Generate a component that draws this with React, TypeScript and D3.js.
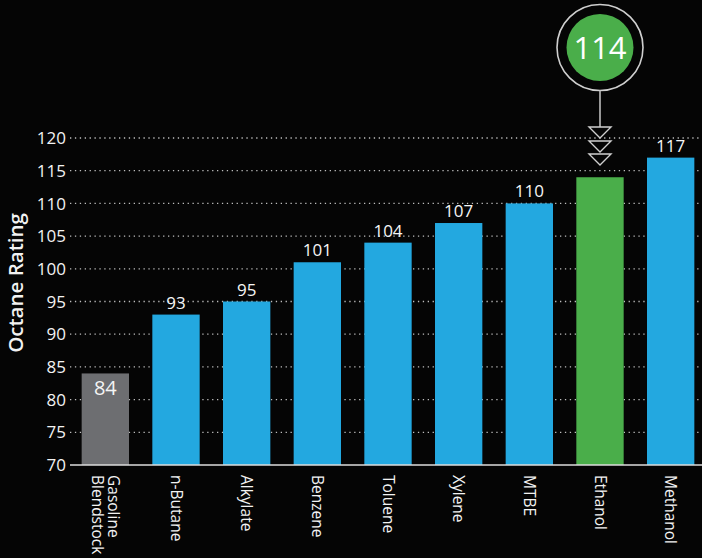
import { useEffect, useRef } from "react";
import * as d3 from "d3";

const WIDTH = 702;
const HEIGHT = 558;

const categories = ["Gasoline Blendstock", "n-Butane", "Alkylate", "Benzene", "Toluene", "Xylene", "MTBE", "Ethanol", "Methanol"];
const octane = [84, 93, 95, 101, 104, 107, 110, 114, 117];
const yTicks = [70, 75, 80, 85, 90, 95, 100, 105, 110, 115, 120];
const highlight = "Ethanol";
const baseCategory = "Gasoline Blendstock";

const BLUE = "#23a8e0";
const GREEN = "#4aae4a";
const GRAY = "#6d6e71";
const FONT = "'Open Sans', 'Noto Sans', sans-serif";

export default function App() {
  const ref = useRef<SVGSVGElement>(null);

  useEffect(() => {
    document.body.style.margin = "0";
    document.body.style.background = "#050505";
    const svg = d3.select(ref.current);
    svg.selectAll("*").remove();

    const x = d3.scaleBand().domain(categories).range([70, 706]).paddingInner(0.33).paddingOuter(0.165);
    const y = d3.scaleLinear().domain([70, 120]).range([465, 138]);

    // dotted gridlines
    svg.append("g")
      .selectAll("line")
      .data(yTicks.slice(1))
      .join("line")
      .attr("x1", 70)
      .attr("x2", WIDTH)
      .attr("y1", (d) => y(d))
      .attr("y2", (d) => y(d))
      .attr("stroke", "#bdbdbd")
      .attr("stroke-width", 1.3)
      .attr("stroke-dasharray", "1.3 3.6");

    // tick labels
    svg.append("g")
      .selectAll("text")
      .data(yTicks)
      .join("text")
      .attr("x", 66)
      .attr("y", (d) => y(d))
      .attr("dy", "0.36em")
      .attr("text-anchor", "end")
      .attr("fill", "#f2f2f2")
      .attr("font-family", FONT)
      .attr("font-weight", 500)
      .attr("font-size", 17)
      .text((d) => d);

    svg.append("text")
      .attr("transform", `translate(23,283) rotate(-90)`)
      .attr("text-anchor", "middle")
      .attr("fill", "#f2f2f2")
      .attr("font-family", FONT)
      .attr("font-weight", 600)
      .attr("font-size", 20.5)
      .text("Octane Rating");

    // bars
    svg.append("g")
      .selectAll("rect")
      .data(categories)
      .join("rect")
      .attr("x", (d) => x(d)!)
      .attr("width", x.bandwidth())
      .attr("y", (_, i) => y(octane[i]))
      .attr("height", (_, i) => y(70) - y(octane[i]))
      .attr("fill", (d) => (d === highlight ? GREEN : d === baseCategory ? GRAY : BLUE));

    // baseline
    svg.append("line")
      .attr("x1", 70)
      .attr("x2", WIDTH)
      .attr("y1", y(70))
      .attr("y2", y(70))
      .attr("stroke", "#dcdcdc")
      .attr("stroke-width", 1.6);

    // value labels
    svg.append("g")
      .selectAll("text")
      .data(categories.filter((c) => c !== highlight))
      .join("text")
      .attr("x", (d) => x(d)! + x.bandwidth() / 2)
      .attr("y", (d) => {
        const v = octane[categories.indexOf(d)];
        return d === baseCategory ? y(v) + 22 : y(v) - 6;
      })
      .attr("text-anchor", "middle")
      .attr("fill", "#f5f5f5")
      .attr("font-family", FONT)
      .attr("font-weight", 500)
      .attr("font-size", (d) => (d === baseCategory ? 20 : 17))
      .text((d) => octane[categories.indexOf(d)]);

    // category labels, rotated
    const xl = svg.append("g")
      .selectAll("text")
      .data(categories)
      .join("text")
      .attr("transform", (d) => `translate(${x(d)! + x.bandwidth() / 2},475) rotate(90)`)
      .attr("fill", "#f2f2f2")
      .attr("font-family", FONT)
      .attr("font-weight", 500)
      .attr("font-size", 15.5);
    xl.each(function (d) {
      const words = d.split(" ");
      const t = d3.select(this);
      const off = (words.length - 1) * 0.54;
      words.forEach((w, i) => {
        t.append("tspan")
          .attr("x", 0)
          .attr("y", 0)
          .attr("dy", `${0.35 - off + i * 1.08}em`)
          .text(w);
      });
    });

    // highlight callout
    const cx = x(highlight)! + x.bandwidth() / 2;
    const hv = octane[categories.indexOf(highlight)];
    const cy = 47.5;
    svg.append("circle").attr("cx", cx).attr("cy", cy).attr("r", 43).attr("fill", "none").attr("stroke", "#cfcfcf").attr("stroke-width", 1.6);
    svg.append("circle").attr("cx", cx).attr("cy", cy).attr("r", 33.5).attr("fill", GREEN);
    svg.append("text")
      .attr("x", cx)
      .attr("y", cy)
      .attr("dy", "0.36em")
      .attr("text-anchor", "middle")
      .attr("fill", "#fff")
      .attr("font-family", FONT)
      .attr("font-weight", 500)
      .attr("font-size", 31)
      .text(hv);
    svg.append("line").attr("x1", cx).attr("x2", cx).attr("y1", cy + 43).attr("y2", 136).attr("stroke", "#bdbdbd").attr("stroke-width", 1.6);
    [127, 141, 154].forEach((ty) => {
      svg.append("path")
        .attr("d", `M${cx - 11},${ty} L${cx + 11},${ty} L${cx},${ty + 11} Z`)
        .attr("fill", "#050505")
        .attr("stroke", "#cfcfcf")
        .attr("stroke-width", 1.4);
    });
  }, []);

  return (
    <svg
      ref={ref}
      width={WIDTH}
      height={HEIGHT}
      style={{ display: "block", background: "#050505" }}
    />
  );
}
